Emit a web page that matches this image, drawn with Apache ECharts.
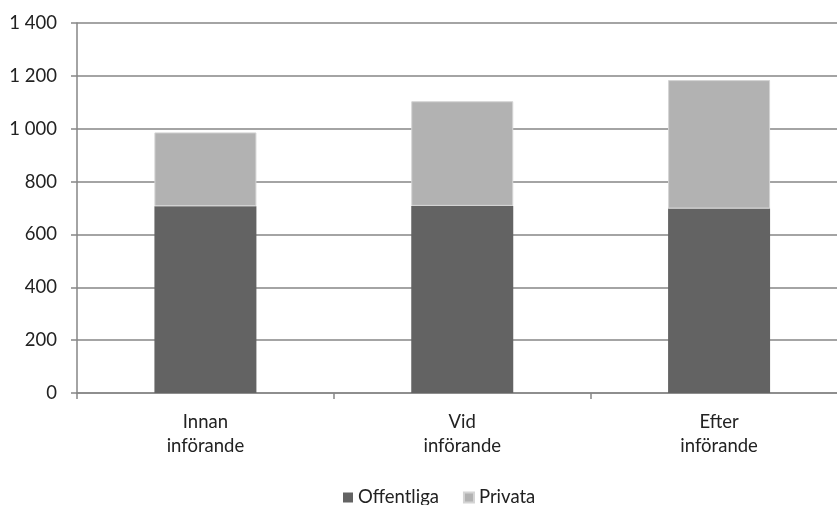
<!DOCTYPE html>
<html>
<head>
<meta charset="utf-8">
<script src="https://cdn.jsdelivr.net/npm/echarts@6/dist/echarts.min.js"></script>
<style>html,body{margin:0;padding:0;background:#fff;}#c{width:837px;height:505px;}</style>
</head>
<body>
<div id="c"></div>
<script>
const categories = ['Innan\ninförande', 'Vid\ninförande', 'Efter\ninförande'];
const offentliga = [707, 708, 698];
const privata = [279, 396, 486];
const seriesNames = ['Offentliga', 'Privata'];

const chart = echarts.init(document.getElementById('c'));
const font = 'Lato, "Open Sans", sans-serif';
chart.setOption({
  animation: false,
  textStyle: { fontFamily: font },
  grid: { left: 77, right: -10.5, top: 23, bottom: 112, outerBoundsMode: 'none', containLabel: false },
  legend: {
    data: seriesNames,
    left: 338, top: 483,
    itemWidth: 10, itemHeight: 10, itemGap: 24,
    icon: 'rect',
    textStyle: { fontSize: 18.5, color: '#222', fontFamily: font }
  },
  xAxis: {
    type: 'category',
    data: categories,
    axisLine: { lineStyle: { color: '#868686', width: 1.5 } },
    axisTick: { show: true, length: 6, lineStyle: { color: '#868686', width: 1.5 } },
    axisLabel: { fontSize: 18.5, color: '#222', lineHeight: 24, margin: 17, fontFamily: font }
  },
  yAxis: {
    type: 'value',
    min: 0, max: 1400, interval: 200,
    axisLine: { show: true, lineStyle: { color: '#868686', width: 1.5 } },
    axisTick: { show: true, length: 6, lineStyle: { color: '#868686', width: 1.5 } },
    splitLine: { lineStyle: { color: '#868686', width: 1.5 } },
    axisLabel: {
      fontSize: 18.5, color: '#222', margin: 20, fontFamily: font,
      formatter: v => String(v).replace(/\B(?=(\d{3})+(?!\d))/g, ' ')
    }
  },
  series: [
    { name: seriesNames[0], type: 'bar', stack: 't', data: offentliga, barWidth: 102,
      itemStyle: { color: '#636363' } },
    { name: seriesNames[1], type: 'bar', stack: 't', data: privata, barWidth: 102,
      itemStyle: { color: '#b2b2b2', borderColor: '#d4d4d4', borderWidth: 1 } }
  ]
});
</script>
</body>
</html>
